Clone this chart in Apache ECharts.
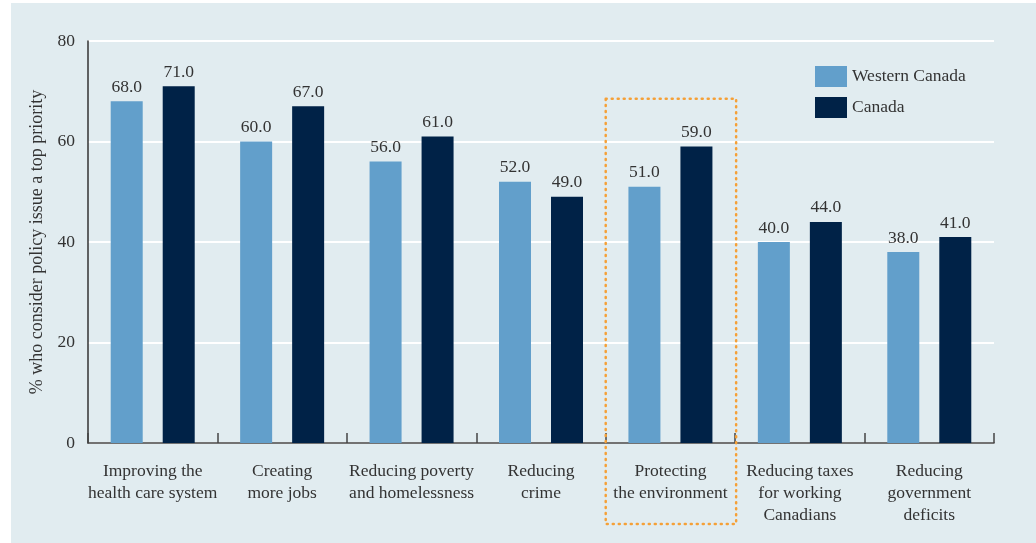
<!DOCTYPE html>
<html><head><meta charset="utf-8">
<script src="https://cdn.jsdelivr.net/npm/echarts@6/dist/echarts.min.js"></script>
<style>
html,body{margin:0;padding:0;background:#fff;}
#panel{position:absolute;left:11px;top:3px;right:0;bottom:0;background:#e1ecf0;}
#chart{position:absolute;left:0;top:0;width:1036px;height:543px;}
</style></head>
<body><div id="panel"></div><div id="chart"></div>
<script>
const categories = ['Improving the\nhealth care system','Creating\nmore jobs','Reducing poverty\nand homelessness','Reducing\ncrime','Protecting\nthe environment','Reducing taxes\nfor working\nCanadians','Reducing\ngovernment\ndeficits'];
const westernCanada = [68,60,56,52,51,40,38];
const canada = [71,67,61,49,59,44,41];
const seriesNames = ['Western Canada','Canada'];
const yTicks = {min:0, max:80, interval:20};
const highlightIndex = 4;

const font = 'Liberation Serif, DejaVu Serif, serif';
const txt = '#333333';
const chart = echarts.init(document.getElementById('chart'), null, {renderer:'canvas'});
const labelCfg = {show:true, position:'top', distance:5, color:txt, fontFamily:font, fontSize:17.5, formatter:p=>p.value.toFixed(1)};
chart.setOption({
  backgroundColor:'transparent',
  animation:false,
  grid:{left:88, right:42, top:41, bottom:100, containLabel:false},
  legend:{
    orient:'vertical', left:810, top:61, itemWidth:32, itemHeight:21, itemGap:10,
    icon:'rect', textStyle:{color:txt, fontFamily:font, fontSize:17.5, padding:[0,0,0,0]},
    data:seriesNames
  },
  xAxis:{
    type:'category', data:categories,
    axisLine:{lineStyle:{color:'#444', width:1.5}},
    axisTick:{show:true, inside:true, length:10, alignWithLabel:false, lineStyle:{color:'#444', width:1.5}},
    axisLabel:{color:txt, fontFamily:font, fontSize:17.5, lineHeight:22, margin:17, interval:0}
  },
  yAxis:{
    type:'value', min:yTicks.min, max:yTicks.max, interval:yTicks.interval,
    name:'% who consider policy issue a top priority', nameLocation:'middle', nameGap:39,
    nameTextStyle:{color:txt, fontFamily:font, fontSize:18},
    axisLine:{show:true, lineStyle:{color:'#333', width:1.5}},
    axisTick:{show:false},
    axisLabel:{color:txt, fontFamily:font, fontSize:17.5, margin:13},
    splitLine:{lineStyle:{color:'#ffffff', width:2}}
  },
  series:[
    {name:seriesNames[0], type:'bar', data:westernCanada, barWidth:32, barGap:'62.5%', itemStyle:{color:'#629fcb'}, label:labelCfg},
    {name:seriesNames[1], type:'bar', data:canada, barWidth:32, itemStyle:{color:'#002247'}, label:labelCfg}
  ]
});
// dotted highlight box around the highlighted category
const c = chart.convertToPixel({xAxisIndex:0}, highlightIndex);
const w = chart.getModel().getComponent('xAxis',0).axis.getBandWidth();
const yTop = chart.convertToPixel({yAxisIndex:0}, 68.5);
chart.setOption({graphic:[{
  type:'rect', shape:{x:c - w/2, y:yTop, width:w+1, height:524 - yTop},
  style:{fill:'none', stroke:'#f5a037', lineWidth:2.5, lineDash:[1,5], lineCap:'round'}, z:10
}]});
</script></body></html>
